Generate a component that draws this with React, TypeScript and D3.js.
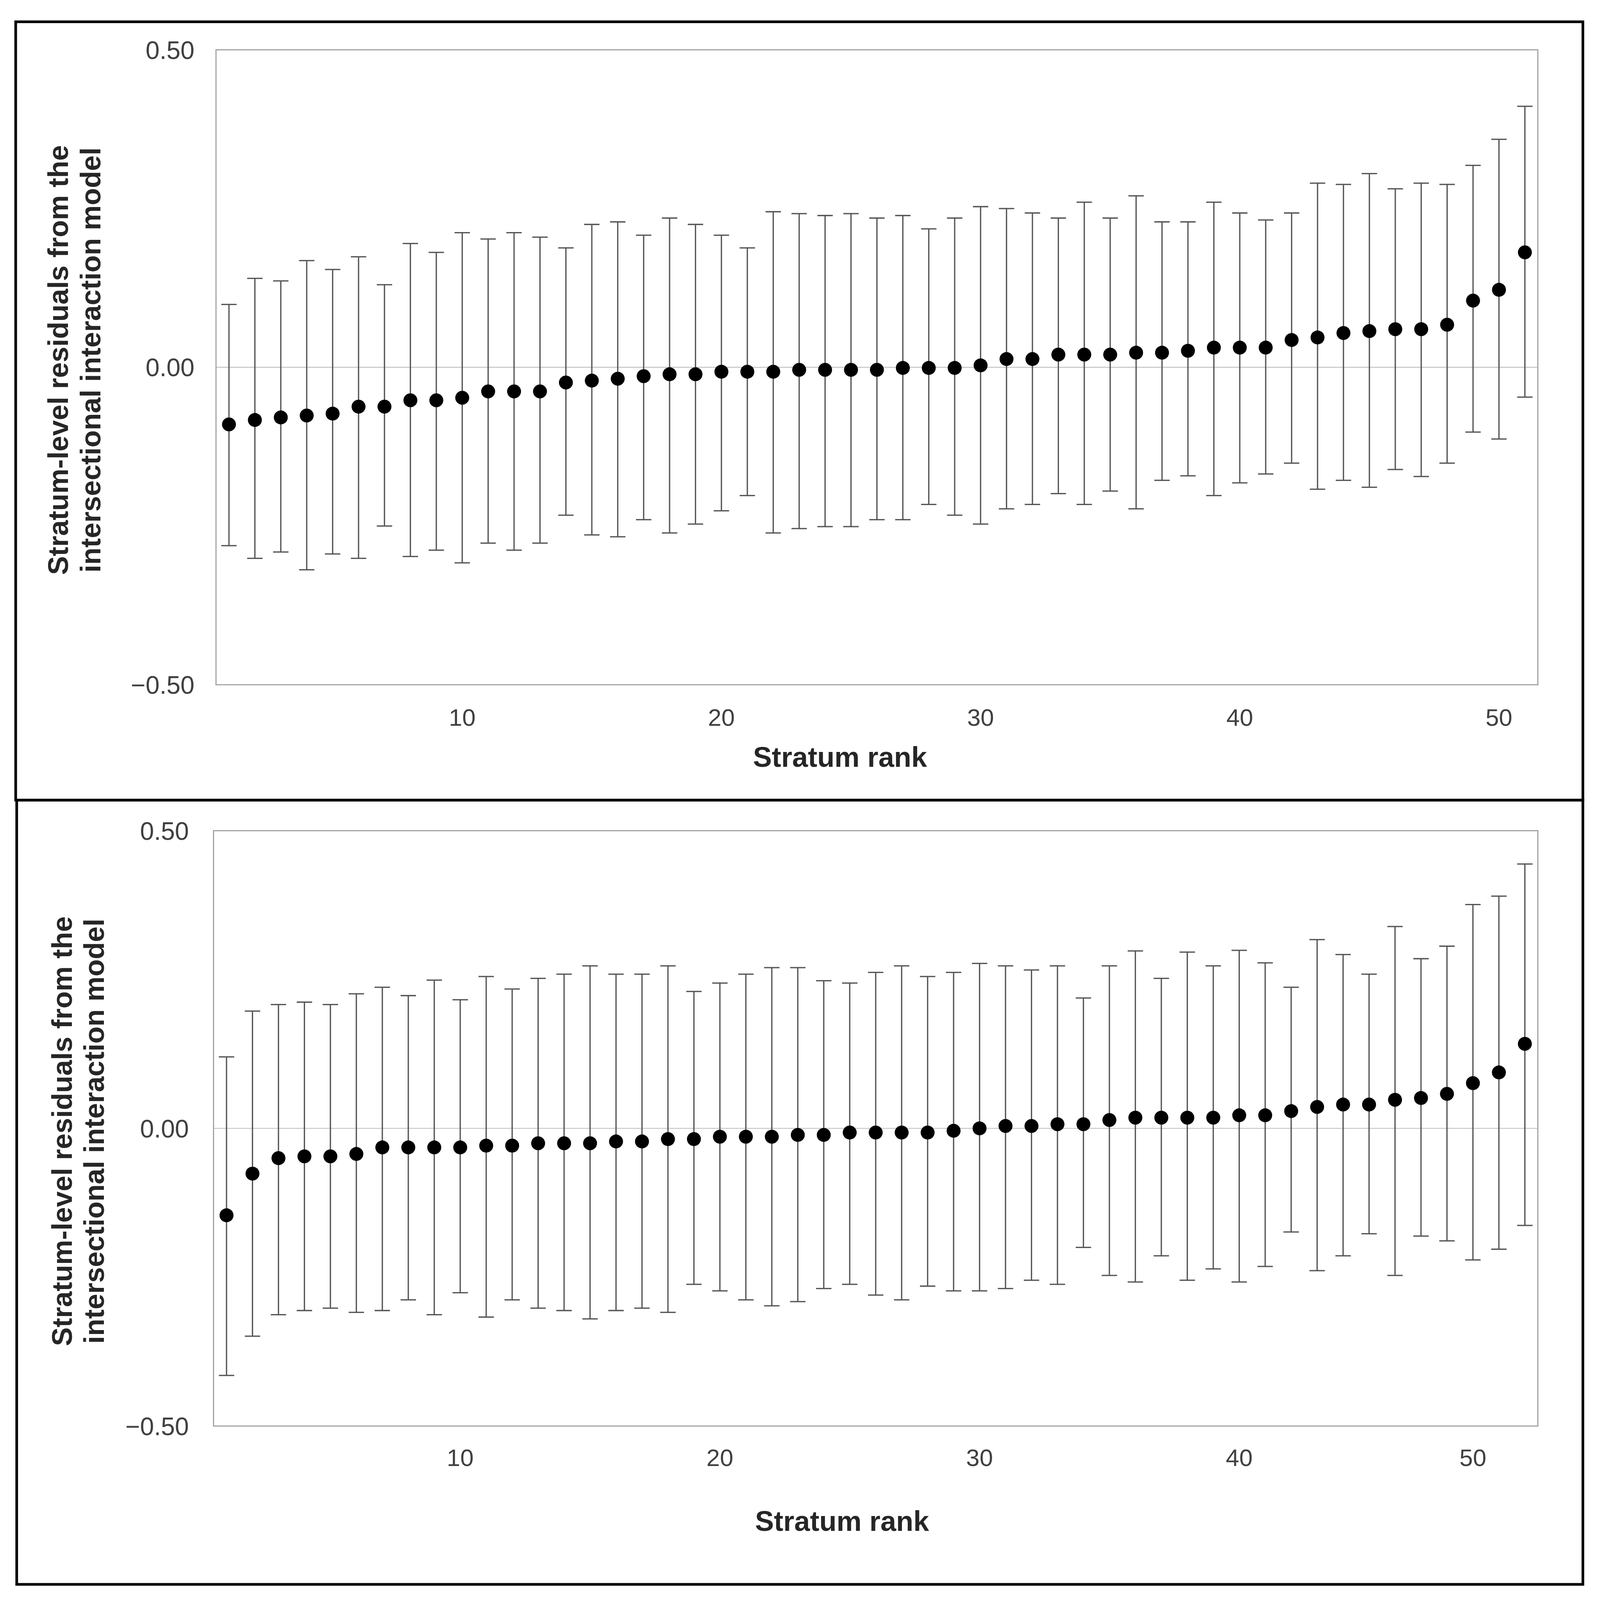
import * as d3 from "d3";

// stratum residuals, top panel (51 strata)
const topMean = [
  -0.09, -0.083, -0.079, -0.076, -0.073, -0.062, -0.062, -0.052, -0.052, -0.048,
  -0.038, -0.038, -0.038, -0.024, -0.021, -0.018, -0.014, -0.011, -0.011, -0.007,
  -0.007, -0.007, -0.004, -0.004, -0.004, -0.004, -0.001, -0.001, -0.001, 0.003,
  0.013, 0.013, 0.02, 0.02, 0.02, 0.023, 0.023, 0.026, 0.031, 0.031,
  0.031, 0.043, 0.047, 0.054, 0.057, 0.06, 0.06, 0.067, 0.105, 0.122, 0.181,
];
const topUpper = [
  0.099, 0.14, 0.136, 0.168, 0.154, 0.174, 0.13, 0.195, 0.181, 0.212,
  0.202, 0.212, 0.205, 0.188, 0.225, 0.229, 0.208, 0.235, 0.225, 0.208,
  0.188, 0.245, 0.242, 0.239, 0.242, 0.235, 0.239, 0.218, 0.235, 0.253,
  0.25, 0.243, 0.235, 0.26, 0.235, 0.27, 0.229, 0.229, 0.26, 0.243,
  0.232, 0.243, 0.29, 0.288, 0.305, 0.281, 0.29, 0.288, 0.318, 0.359, 0.411,
];
const topLower = [
  -0.281, -0.301, -0.291, -0.319, -0.294, -0.301, -0.25, -0.298, -0.288, -0.308,
  -0.277, -0.288, -0.277, -0.233, -0.264, -0.267, -0.24, -0.261, -0.247, -0.226,
  -0.202, -0.261, -0.254, -0.251, -0.251, -0.24, -0.24, -0.216, -0.233, -0.247,
  -0.223, -0.216, -0.199, -0.216, -0.195, -0.223, -0.178, -0.171, -0.202, -0.182,
  -0.168, -0.151, -0.192, -0.178, -0.189, -0.161, -0.172, -0.151, -0.102, -0.113, -0.047,
];

// bottom panel (51 strata)
const botMean = [
  -0.146, -0.076, -0.05, -0.047, -0.047, -0.043, -0.032, -0.032, -0.032, -0.032,
  -0.029, -0.029, -0.025, -0.025, -0.025, -0.022, -0.022, -0.018, -0.018, -0.014,
  -0.014, -0.014, -0.011, -0.011, -0.007, -0.007, -0.007, -0.007, -0.004, 0.0,
  0.004, 0.004, 0.007, 0.007, 0.014, 0.018, 0.018, 0.018, 0.018, 0.022,
  0.022, 0.029, 0.036, 0.04, 0.04, 0.048, 0.051, 0.058, 0.076, 0.094, 0.142,
];
const botUpper = [
  0.12, 0.197, 0.208, 0.212, 0.208, 0.226, 0.237, 0.223, 0.249, 0.216,
  0.255, 0.234, 0.252, 0.259, 0.273, 0.259, 0.259, 0.273, 0.23, 0.244,
  0.259, 0.27, 0.27, 0.248, 0.244, 0.262, 0.273, 0.255, 0.262, 0.277,
  0.273, 0.266, 0.273, 0.219, 0.273, 0.298, 0.252, 0.296, 0.273, 0.299,
  0.278, 0.237, 0.317, 0.292, 0.259, 0.339, 0.285, 0.306, 0.376, 0.39, 0.444,
];
const botLower = [
  -0.415, -0.349, -0.313, -0.306, -0.302, -0.309, -0.306, -0.288, -0.313, -0.276,
  -0.317, -0.288, -0.302, -0.306, -0.32, -0.306, -0.302, -0.309, -0.262, -0.273,
  -0.288, -0.298, -0.291, -0.269, -0.262, -0.28, -0.288, -0.265, -0.273, -0.273,
  -0.269, -0.255, -0.262, -0.2, -0.247, -0.258, -0.214, -0.255, -0.236, -0.258,
  -0.232, -0.174, -0.239, -0.214, -0.177, -0.247, -0.181, -0.189, -0.221, -0.203, -0.163,
];

const yTicks = [-0.5, 0, 0.5];
const topTickRanks = [10, 20, 30, 40, 50];
const topTickLabels = ["10", "20", "30", "40", "50"];
// the bottom chart's "50" sits under rank 49 in the original
const botTickRanks = [10, 20, 30, 40, 49];
const botTickLabels = ["10", "20", "30", "40", "50"];

const yTitle1 = "Stratum-level residuals from the";
const yTitle2 = "intersectional interaction model";
const xTitle = "Stratum rank";

const W = 4269;
const H = 4281;
const VW = 1560; // drawing units
const VH = (H * VW) / W;

const FONT = "'Liberation Sans', Arial, sans-serif";

type PanelProps = {
  mean: number[];
  upper: number[];
  lower: number[];
  tickRanks: number[];
  tickLabels: string[];
  box: { x0: number; x1: number; y0: number; y1: number };
  yLabelGap: number;
  tickY: number;
  titleX: number;
  titleY: number;
  yTitleX: number[];
  yTitleCy: number;
};

function Panel({
  mean,
  upper,
  lower,
  tickRanks,
  tickLabels,
  box,
  yLabelGap,
  tickY,
  titleX,
  titleY,
  yTitleX,
  yTitleCy,
}: PanelProps) {
  const n = mean.length;
  const x = d3.scaleLinear().domain([0.5, n + 0.5]).range([box.x0, box.x1]);
  const y = d3.scaleLinear().domain([-0.5, 0.5]).range([box.y1, box.y0]);
  const fmt = d3.format(".2f");
  const cap = 7.5;

  return (
    <g>
      <line x1={box.x0} x2={box.x1} y1={y(0)} y2={y(0)} stroke="#c4c4c4" strokeWidth={0.9} />
      <rect
        x={box.x0}
        y={box.y0}
        width={box.x1 - box.x0}
        height={box.y1 - box.y0}
        fill="none"
        stroke="#a0a0a0"
        strokeWidth={1.1}
      />
      {yTicks.map((t) => (
        <text
          key={t}
          x={box.x0 - yLabelGap}
          y={y(t)}
          dy="0.36em"
          textAnchor="end"
          fontFamily={FONT}
          fontSize={24.5}
          fill="#404040"
        >
          {fmt(t)}
        </text>
      ))}
      {tickRanks.map((r, i) => (
        <text
          key={r}
          x={x(r)}
          y={tickY}
          dy="0.36em"
          textAnchor="middle"
          fontFamily={FONT}
          fontSize={23.5}
          fill="#404040"
        >
          {tickLabels[i]}
        </text>
      ))}
      {mean.map((m, i) => {
        const cx = x(i + 1);
        return (
          <g key={i}>
            <line x1={cx} x2={cx} y1={y(upper[i])} y2={y(lower[i])} stroke="#555" strokeWidth={1.25} />
            <line x1={cx - cap} x2={cx + cap} y1={y(upper[i])} y2={y(upper[i])} stroke="#555" strokeWidth={1.25} />
            <line x1={cx - cap} x2={cx + cap} y1={y(lower[i])} y2={y(lower[i])} stroke="#555" strokeWidth={1.25} />
            <circle cx={cx} cy={y(m)} r={6.8} fill="#000" />
          </g>
        );
      })}
      <text
        x={titleX}
        y={titleY}
        dy="0.36em"
        textAnchor="middle"
        fontFamily={FONT}
        fontWeight="bold"
        fontSize={27.5}
        fill="#262626"
      >
        {xTitle}
      </text>
      {[yTitle1, yTitle2].map((t, i) => (
        <text
          key={t}
          transform={`translate(${yTitleX[i]},${yTitleCy}) rotate(-90)`}
          dy="0.36em"
          textAnchor="middle"
          fontFamily={FONT}
          fontWeight="bold"
          fontSize={27.5}
          fill="#262626"
        >
          {t}
        </text>
      ))}
    </g>
  );
}

export default function App() {
  // fill the whole viewport so the figure keeps its proportions to the page
  return (
    <svg
      viewBox={`0 0 ${VW} ${VH}`}
      preserveAspectRatio="none"
      style={{ position: "fixed", left: 0, top: 0, width: "100vw", height: "100vh", display: "block", background: "#fff" }}
    >
      <rect x={0} y={0} width={VW} height={VH} fill="#fff" />
      <Panel
        mean={topMean}
        upper={topUpper}
        lower={topLower}
        tickRanks={topTickRanks}
        tickLabels={topTickLabels}
        box={{ x0: 210.6, x1: 1499.4, y0: 48.7, y1: 669.5 }}
        yLabelGap={21}
        tickY={701}
        titleX={819}
        titleY={740}
        yTitleX={[56.5, 88]}
        yTitleCy={352}
      />
      <Panel
        mean={botMean}
        upper={botUpper}
        lower={botLower}
        tickRanks={botTickRanks}
        tickLabels={botTickLabels}
        box={{ x0: 208.2, x1: 1499.4, y0: 812.2, y1: 1394.3 }}
        yLabelGap={24}
        tickY={1425}
        titleX={821}
        titleY={1487}
        yTitleX={[60, 91.5]}
        yTitleCy={1106}
      />
      <rect x={15.3} y={21.3} width={1528} height={761} fill="none" stroke="#000" strokeWidth={2.6} />
      <rect x={16.3} y={782.3} width={1527} height={766.8} fill="none" stroke="#000" strokeWidth={2.6} />
    </svg>
  );
}
